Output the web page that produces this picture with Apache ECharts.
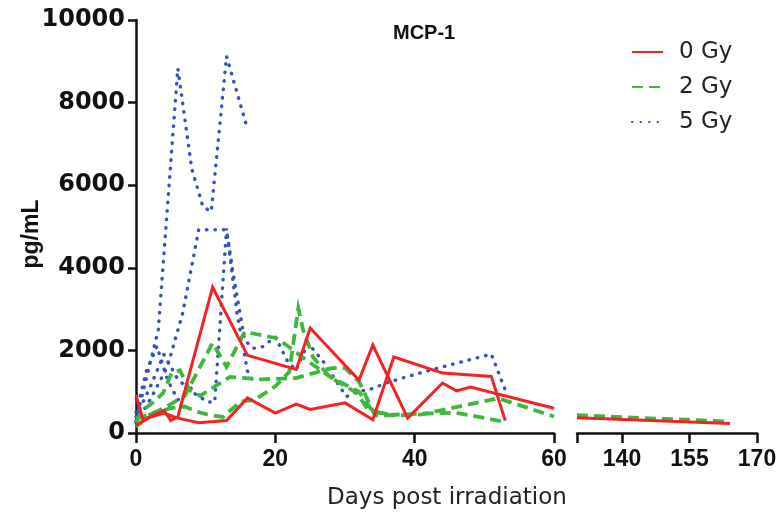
<!DOCTYPE html>
<html>
<head>
<meta charset="utf-8">
<script src="https://cdn.jsdelivr.net/npm/echarts@6/dist/echarts.min.js"></script>
<style>
html,body{margin:0;padding:0;background:#fff;}
#chart{width:783px;height:518px;}
</style>
</head>
<body>
<div id="chart"></div>
<script>
// ---- data: [day, pg/mL] ----
const dose0a = [[0,920],[1,320],[4,550],[5,300],[6,390],[11,3530],[16,1880],[23,1540],[25,2540],[32,1280],[34,2130],[39,360],[44,1210],[46,1020],[48,1110],[60,600]];
const dose0b = [[0,180],[2,380],[4,480],[6,360],[9,250],[13,300],[16,850],[20,480],[23,700],[25,570],[30,730],[34,320],[37,1840],[44,1450],[51,1370],[53,300]];
const dose0late = [[130,370],[164,230]];

const dose2a = [[0,350],[2,450],[4,600],[7,900],[11,2180],[13,1600],[15.6,2450],[20,2300],[21,2200],[25,1700],[28,1350],[32,1000],[34,520],[37,430]];
const dose2b = [[0,150],[2,450],[5,600],[7,640],[8.7,520],[10.6,430],[12.5,390],[15,760],[17,800],[20,1130],[22,1480],[23.3,3020],[24,2490],[25.4,1840],[27.8,1355],[31.7,970],[33.3,560],[36.4,440],[43.6,480],[46,490],[53,270]];
const dose2c = [[0,250],[1,560],[2.4,730],[3.9,970],[5.1,1450],[6.3,1520],[7.7,1040],[9.2,900],[12,1200],[13.5,1360],[18,1300],[23,1330],[28,1570],[30,1570],[32,1250],[34.3,430],[38,430],[41,450],[52,840],[60,400]];
const dose2late = [[130,430],[163,280]];

const dose5a = [[0,300],[3.2,2500],[6,8830],[8,6400],[9.6,5480],[10.8,5360],[13,9120],[16,7360]];
const dose5b = [[0,250],[2,800],[4.5,1600],[6.7,2900],[9,4920],[13,4920],[14,3800],[15.6,2250],[16.8,2050],[18.2,2090],[20,2330],[21.8,1720],[23,1520],[24.7,2180],[27,1700],[30.2,880],[31.7,1000],[33.5,1050],[36.4,1240],[40.7,1450],[43.3,1570],[51,1910],[53,1040]];
const dose5c = [[0,400],[2,1100],[4,1900],[6,1300],[8,1000],[10.3,750],[11.3,750],[13,4950],[14.5,2900],[16,1500],[17,1200]];
const dose5d = [[0,500],[1.5,1500],[3,2100],[4.5,1300],[6,800],[8,1100]];

const legendNames = ['0 Gy','2 Gy','5 Gy'];
const xTicksLate = [140,155,170];
const xTickMarksLate = [130,140,155,170];

// ---- styles ----
const styles = {
  '0 Gy': {color:'#f42323', width:3, type:'solid'},
  '2 Gy': {color:'#3db83d', width:3.8, type:[11,6]},
  '5 Gy': {color:'#3453bd', width:3.4, type:[0.5,8], cap:'round'}
};
function mk(name, data, gi){
  const s = styles[name];
  return {
    name: name, type:'line', xAxisIndex:gi, yAxisIndex:gi, data:data,
    symbol:'none', showSymbol:false, smooth:false, animation:false,
    lineStyle:{color:s.color, width:s.width, type:s.type, cap:s.cap||'butt', join:'miter'},
    itemStyle:{color:s.color},
    z: name==='0 Gy'?5:(name==='2 Gy'?4:3)
  };
}

const axisCol = '#111';
const chart = echarts.init(document.getElementById('chart'), null, {renderer:'canvas'});
chart.setOption({
  animation:false,
  backgroundColor:'#fff',
  title:{text:'MCP-1', left:388, top:18,
    textStyle:{fontFamily:'Liberation Sans', fontWeight:'bold', fontSize:20, color:'#111'}},
  legend:{
    data:legendNames, orient:'vertical', left:626, top:35,
    itemWidth:31, itemHeight:14, itemGap:11,
    itemStyle:{opacity:0, borderWidth:0},
    textStyle:{fontFamily:'DejaVu Sans', fontSize:23, color:'#222', lineHeight:24, padding:[0,0,0,11]}
  },
  grid:[
    {left:136, top:20, width:418, height:413, outerBoundsMode:'none', containLabel:false},
    {left:577, top:20, width:180, height:413, outerBoundsMode:'none', containLabel:false}
  ],
  xAxis:[
    {gridIndex:0, type:'value', min:0, max:60, interval:20,
     axisLine:{show:true, lineStyle:{color:axisCol, width:2.5}},
     axisTick:{show:true, length:10, lineStyle:{color:axisCol, width:2.5}},
     axisLabel:{margin:15, fontFamily:'Liberation Sans', fontWeight:'bold', fontSize:23, color:axisCol},
     splitLine:{show:false}},
    {gridIndex:1, type:'value', min:130, max:170,
     axisLine:{show:true, lineStyle:{color:axisCol, width:2.5}},
     axisTick:{show:true, length:10, customValues:xTickMarksLate, lineStyle:{color:axisCol, width:2.5}},
     axisLabel:{margin:15, customValues:xTicksLate, fontFamily:'Liberation Sans', fontWeight:'bold', fontSize:23, color:axisCol},
     splitLine:{show:false}}
  ],
  yAxis:[
    {gridIndex:0, type:'value', min:0, max:10000, interval:2000,
     axisLine:{show:true, lineStyle:{color:axisCol, width:2.5}},
     axisTick:{show:true, length:8, lineStyle:{color:axisCol, width:2.5}},
     axisLabel:{margin:11, fontFamily:'DejaVu Sans', fontWeight:'bold', fontSize:24, color:axisCol,
       formatter:function(v){return String(v);}},
     splitLine:{show:false}},
    {gridIndex:1, type:'value', min:0, max:10000, show:false}
  ],
  graphic:[
    {type:'text', left:327, top:487,
     style:{text:'Days post irradiation', font:'23px "DejaVu Sans"', fill:'#222'}},
    {type:'text', x:32, y:234, rotation:Math.PI/2,
     style:{text:'pg/mL', font:'bold 23px "Liberation Sans"', fill:'#111', align:'center', verticalAlign:'middle'}}
  ],
  series:[
    mk('5 Gy', dose5a, 0), mk('5 Gy', dose5b, 0), mk('5 Gy', dose5c, 0), mk('5 Gy', dose5d, 0),
    mk('2 Gy', dose2a, 0), mk('2 Gy', dose2b, 0), mk('2 Gy', dose2c, 0), mk('2 Gy', dose2late, 1),
    mk('0 Gy', dose0a, 0), mk('0 Gy', dose0b, 0), mk('0 Gy', dose0late, 1)
  ]
});
</script>
</body>
</html>
